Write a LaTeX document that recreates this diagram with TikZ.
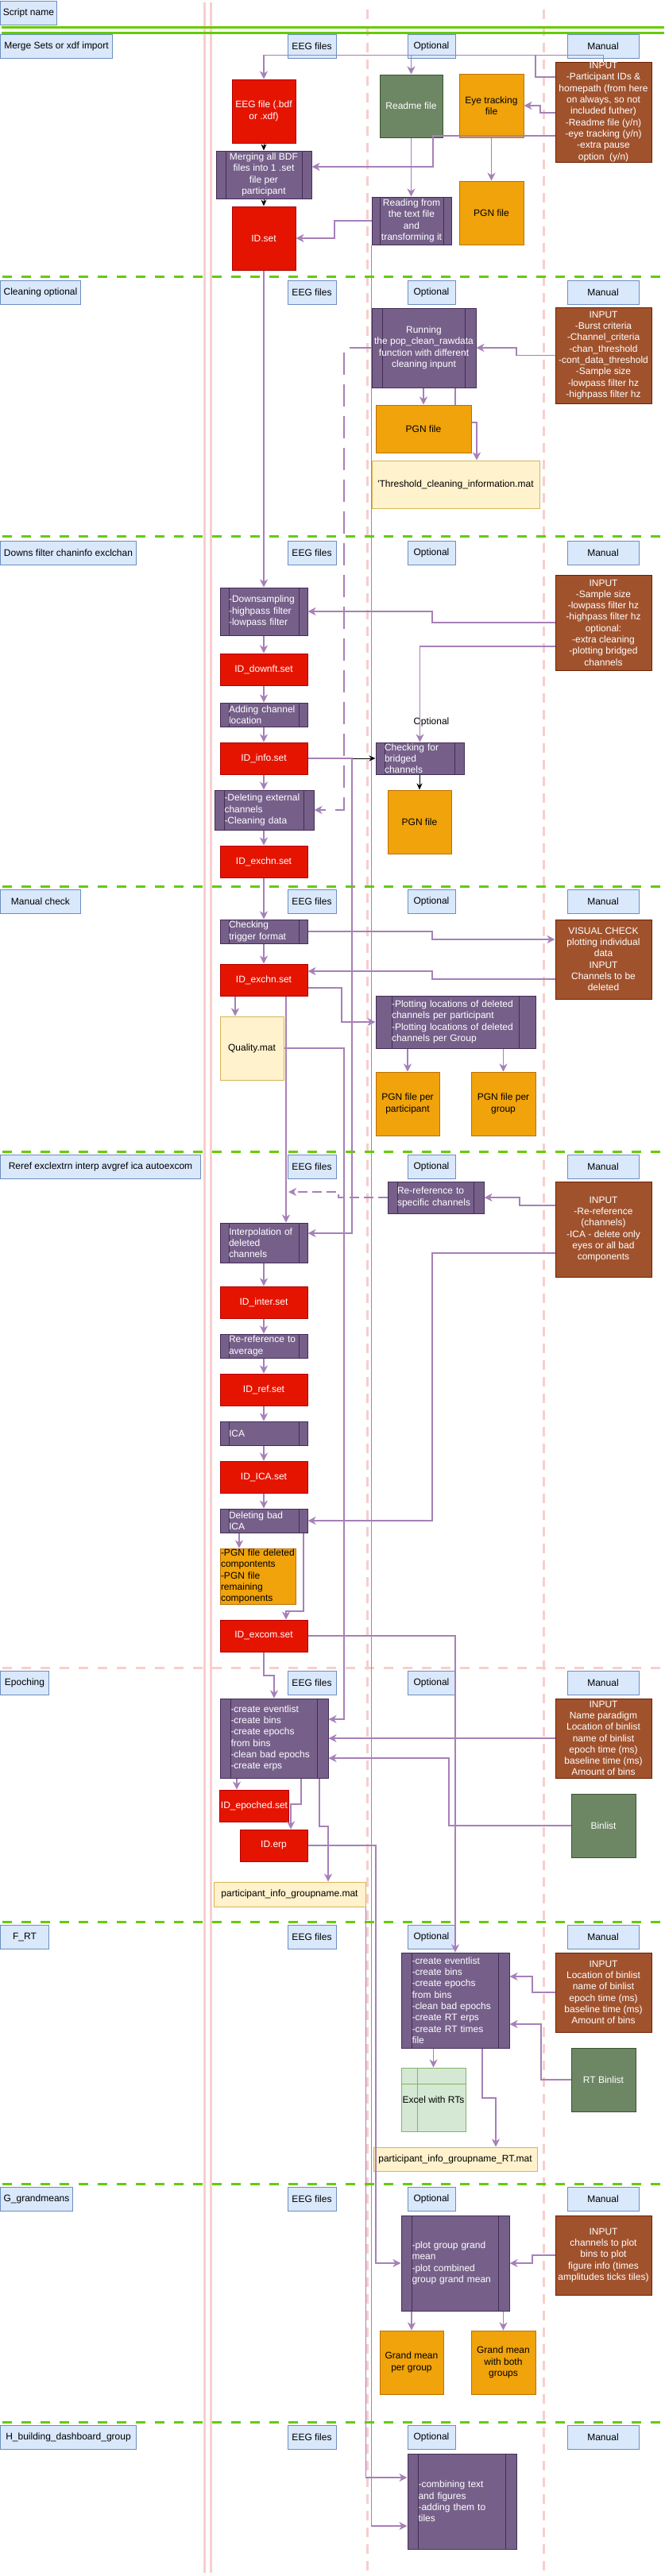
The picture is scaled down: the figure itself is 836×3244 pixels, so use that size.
\documentclass[tikz,border=0pt]{standalone}
\usepackage{fontspec}
\setmainfont{Liberation Sans}
\usetikzlibrary{arrows.meta,calc,backgrounds}

\definecolor{redfill}{HTML}{E51400}
\definecolor{redline}{HTML}{B20000}
\definecolor{procfill}{HTML}{76608A}
\definecolor{procline}{HTML}{432D57}
\definecolor{orfill}{HTML}{F0A30A}
\definecolor{orline}{HTML}{BD7000}
\definecolor{brfill}{HTML}{A0522D}
\definecolor{brline}{HTML}{6D1F00}
\definecolor{grfill}{HTML}{6D8764}
\definecolor{grline}{HTML}{3A5431}
\definecolor{hdrfill}{HTML}{DAE8FC}
\definecolor{hdrline}{HTML}{6C8EBF}
\definecolor{yelfill}{HTML}{FFF2CC}
\definecolor{yelline}{HTML}{D6B656}
\definecolor{lgfill}{HTML}{D5E8D4}
\definecolor{lgline}{HTML}{82B366}
\definecolor{flowcol}{HTML}{A680B8}
\definecolor{sepgreen}{HTML}{66CC00}
\definecolor{lanepink}{HTML}{F8CECC}

\begin{document}
\begin{tikzpicture}[x=1pt, y=-1pt,
  every node/.style={font=\fontsize{12}{14.3}\selectfont, inner xsep=1pt, inner ysep=0pt},
  sz/.style 2 args={minimum width=#1pt, minimum height=#2pt},
  hdr/.style={draw=hdrline, fill=hdrfill, line width=1pt},
  setfile/.style={draw=redline, fill=redfill, text=white, line width=1pt, align=center},
  proc/.style={draw=procline, fill=procfill, text=white, line width=1pt, align=center,
    path picture={\draw[procline, line width=1pt]
      ($(path picture bounding box.north west)!0.1!(path picture bounding box.north east)$) --
      ($(path picture bounding box.south west)!0.1!(path picture bounding box.south east)$)
      ($(path picture bounding box.north west)!0.9!(path picture bounding box.north east)$) --
      ($(path picture bounding box.south west)!0.9!(path picture bounding box.south east)$);}},
  procl/.style={proc, align=left, text width=#1pt},
  pgn/.style={draw=orline, fill=orfill, line width=1pt, align=center},
  inbox/.style={draw=brline, fill=brfill, text=white, line width=1pt, align=center},
  binbox/.style={draw=grline, fill=grfill, text=white, line width=1pt, align=center},
  matbox/.style={draw=yelline, fill=yelfill, line width=1pt, align=center},
  xlsbox/.style={draw=lgline, fill=lgfill, line width=1pt, align=center,
    path picture={\draw[lgline, line width=1pt]
      ([xshift=20pt]path picture bounding box.north west) -- ([xshift=20pt]path picture bounding box.south west)
      ([yshift=-20pt]path picture bounding box.north west) -- ([yshift=-20pt]path picture bounding box.north east);}},
  flowto/.style={draw=flowcol, line width=1.8pt, -{Stealth[length=10pt,width=10pt,inset=3pt]}},
  flowline/.style={draw=flowcol, line width=1.8pt},
  blk/.style={draw=black, line width=1pt, -{Stealth[length=8pt,width=7pt]}},
  divider/.style={draw=sepgreen, line width=3pt, dash pattern=on 12pt off 12pt},
  laneline/.style={draw=lanepink, line width=3pt}]

  \path[use as bounding box] (0,0) rectangle (836,3244);

  % Script names
  \draw (0,1) node[hdr, anchor=north west, sz={71}{30}] (snScript) {Script name};
  \draw (0,43) node[hdr, anchor=north west, sz={141}{30}] (snMerge) {Merge Sets or xdf import};
  \draw (0,353) node[hdr, anchor=north west, sz={101}{30}] (snClean) {Cleaning optional};
  \draw (0,681) node[hdr, anchor=north west, sz={171}{30}] (snDowns) {Downs filter chaninfo exclchan};
  \draw (0,1120) node[hdr, anchor=north west, sz={101}{30}] (snCheck) {Manual check};
  \draw (0,1454) node[hdr, anchor=north west, sz={252}{30}] (snReref) {Reref exclextrn interp avgref ica autoexcom};
  \draw (0,2104) node[hdr, anchor=north west, sz={61}{30}] (snEpoch) {Epoching};
  \draw (0,2424) node[hdr, anchor=north west, sz={61}{30}] (snRT) {F\_RT};
  \draw (0,2754) node[hdr, anchor=north west, sz={91}{30}] (snGrand) {G\_grandmeans};
  \draw (0,3054) node[hdr, anchor=north west, sz={171}{30}] (snDash) {H\_building\_dashboard\_group};

  % Column heads
  \foreach \y [count=\i] in {43,353,681,1120,1454,2104,2424,2754,3054} {
    \draw (392.5,\y+15) node[hdr, sz={61}{30}] (eeg\i) {EEG files};
    \draw (543,\y+15) node[hdr, sz={60}{30}] (opt\i) {Optional};
    \draw (759,\y+15) node[hdr, sz={90}{30}] (man\i) {Manual};
  }

  % Merge Sets or xdf import
  \draw (332,140) node[setfile, sz={80}{80}] (eegf) {EEG file (.bdf\\or .xdf)};
  \draw (517.5,133.5) node[binbox, sz={79}{79}] (readme) {Readme file};
  \draw (618.5,133) node[pgn, sz={81}{80}] (eyetr) {Eye tracking\\file};
  \draw (759.5,141) node[inbox, sz={121}{126}] (inpA) {INPUT\\-Participant IDs \&\\homepath (from here\\on always, so not\\included futher)\\-Readme file (y/n)\\-eye tracking (y/n)\\-extra pause\\option\ \ (y/n)};
  \draw (332,220) node[proc, sz={120}{60}] (merge) {Merging all BDF\\files into 1 .set\\file per\\participant};
  \draw (332,300) node[setfile, sz={80}{80}] (idset) {ID.set};
  \draw (518,278) node[proc, sz={100}{60}] (reading) {Reading from\\the text file\\and\\transforming it};
  \draw (618.5,268) node[pgn, sz={81}{80}] (pgnA) {PGN file};

  % Cleaning optional
  \draw (533.5,438) node[proc, sz={131}{100}] (running) {Running\\the pop\_clean\_rawdata\\function with different\\cleaning inpunt};
  \draw (759.5,447.5) node[inbox, sz={121}{121}] (inpB) {INPUT\\-Burst criteria\\-Channel\_criteria\\-chan\_threshold\\-cont\_data\_threshold\\-Sample size\\-lowpass filter hz\\-highpass filter hz};
  \draw (533,540) node[pgn, sz={120}{60}] (pgnB) {PGN file};
  \draw (573.5,610) node[matbox, sz={211}{60}] (thresh) {\textquotesingle Threshold\_cleaning\_information.mat};

  % Downs filter chaninfo exclchan
  \draw (332,770) node[procl=88, sz={110}{60}] (downs) {-Downsampling\\-highpass filter\\-lowpass filter};
  \draw (332,843) node[setfile, sz={110}{40}] (iddown) {ID\_downft.set};
  \draw (332,900) node[procl=88, sz={110}{30}] (chanloc) {Adding channel\\location};
  \draw (332,955) node[setfile, sz={110}{40}] (idinfo) {ID\_info.set};
  \draw (759.5,784) node[inbox, sz={121}{120}] (inpC) {INPUT\\-Sample size\\-lowpass filter hz\\-highpass filter hz\\optional:\\-extra cleaning\\-plotting bridged\\channels};
  \draw (543,909) node (optC) {Optional};
  \draw (528.5,955) node[procl=89, sz={111}{40}] (bridged) {Checking for\\bridged\\channels};
  \draw (528,1035) node[pgn, sz={80}{80}] (pgnC) {PGN file};
  \draw (332.5,1020) node[procl=100, sz={125}{50}] (delext) {-Deleting external\\channels\\-Cleaning data};
  \draw (332,1085) node[setfile, sz={110}{40}] (idexchn) {ID\_exchn.set};

  % Manual check
  \draw (332,1173) node[procl=88, sz={110}{30}] (trigger) {Checking\\trigger format};
  \draw (759.5,1208) node[inbox, sz={121}{100}] (visual) {VISUAL CHECK\\plotting individual\\data\\INPUT\\Channels to be\\deleted};
  \draw (332,1234) node[setfile, sz={110}{40}] (idexchnB) {ID\_exchn.set};
  \draw (573.5,1287) node[procl=161, sz={201}{66}] (plotloc) {-Plotting locations of deleted\\channels per participant\\-Plotting locations of deleted\\channels per Group};
  \draw (513,1390) node[pgn, sz={80}{80}] (pgnpart) {PGN file per\\participant};
  \draw (633.5,1390) node[pgn, sz={81}{80}] (pgngrp) {PGN file per\\group};
  \draw (317,1320) node[matbox, sz={80}{80}] (quality) {Quality.mat};

  % Reref exclextrn interp avgref ica autoexcom
  \draw (548.5,1508) node[procl=97, sz={121}{40}] (reref) {Re-reference to\\specific channels};
  \draw (759.5,1548) node[inbox, sz={121}{120}] (inpE) {INPUT\\-Re-reference\\(channels)\\-ICA - delete only\\eyes or all bad\\components};
  \draw (332,1565) node[procl=88, sz={110}{50}] (interp) {Interpolation of\\deleted\\channels};
  \draw (332,1640) node[setfile, sz={110}{40}] (idinter) {ID\_inter.set};
  \draw (332,1695) node[procl=88, sz={110}{30}] (refavg) {Re-reference to\\average};
  \draw (332,1750) node[setfile, sz={110}{40}] (idref) {ID\_ref.set};
  \draw (332,1805) node[procl=88, sz={110}{30}] (ica) {ICA};
  \draw (332,1860) node[setfile, sz={110}{40}] (idica) {ID\_ICA.set};
  \draw (332,1915) node[procl=88, sz={110}{30}] (delica) {Deleting bad\\ICA};
  \draw (324.5,1985) node[pgn, align=left, text width=93pt, sz={95}{70}] (pgncomp) {-PGN file deleted\\compontents\\-PGN file\\remaining\\components};
  \draw (332,2060) node[setfile, sz={110}{40}] (idexcom) {ID\_excom.set};
  \coordinate (rerefend) at (363,1501);

  % Epoching
  \draw (345,2189) node[procl=109, sz={136}{100}] (epoch) {-create eventlist\\-create bins\\-create epochs\\from bins\\-clean bad epochs\\-create erps};
  \draw (759.5,2189) node[inbox, sz={121}{100}] (inpF) {INPUT\\Name paradigm\\Location of binlist\\name of binlist\\epoch time (ms)\\baseline time (ms)\\Amount of bins};
  \draw (759.5,2299) node[binbox, sz={81}{80}] (binlist) {Binlist};
  \draw (320,2274) node[setfile, sz={86}{40}] (idepoch) {ID\_epoched.set};
  \draw (344.5,2324) node[setfile, sz={85}{40}] (iderp) {ID.erp};
  \draw (364.5,2385.5) node[matbox, sz={191}{31}] (pinfo) {participant\_info\_groupname.mat};

  % F_RT
  \draw (573,2519) node[procl=109, sz={136}{120}] (rtbox) {-create eventlist\\-create bins\\-create epochs\\from bins\\-clean bad epochs\\-create RT erps\\-create RT times\\file};
  \draw (759.5,2509) node[inbox, sz={121}{100}] (inpG) {INPUT\\Location of binlist\\name of binlist\\epoch time (ms)\\baseline time (ms)\\Amount of bins};
  \draw (759.5,2619) node[binbox, sz={81}{80}] (rtbin) {RT Binlist};
  \draw (545.5,2644) node[xlsbox, sz={81}{80}] (excel) {Excel with RTs};
  \draw (573,2719) node[matbox, sz={206}{30}] (pinfort) {participant\_info\_groupname\_RT.mat};

  % G_grandmeans
  \draw (573,2850) node[procl=109, sz={136}{120}] (gm) {-plot group grand\\mean\\-plot combined\\group grand mean};
  \draw (759.5,2840) node[inbox, sz={121}{100}] (inpH) {INPUT\\channels to plot\\bins to plot\\figure info (times\\amplitudes ticks tiles)};
  \draw (518,2975) node[pgn, sz={80}{80}] (gmgrp) {Grand mean\\per group};
  \draw (633.5,2975) node[pgn, sz={81}{80}] (gmboth) {Grand mean\\with both\\groups};

  % H_building_dashboard_group
  \draw (581.5,3150) node[procl=110, sz={137}{120}] (dashbd) {-combining text\\and figures\\-adding them to\\tiles};

  % Lanes and separators
  \begin{pgfonlayer}{background}
    \draw[laneline] (257,3) -- (257,3240);
    \draw[laneline] (265,3) -- (265,3240);
    \draw[laneline, dash pattern=on 12pt off 9pt] (462.5,12) -- (462.5,3240);
    \draw[laneline, dash pattern=on 12pt off 9pt] (684,12) -- (684,3240);
    \draw[divider, solid] (2,34) -- (836,34);
    \draw[divider, solid] (2,41) -- (836,41);
    \foreach \y in {348,675,1116,1450,2420,2750,3050}
      \draw[divider] (3,\y) -- (836,\y);
    \draw[divider, draw=lanepink] (3,2100) -- (836,2100);
    \draw[flowto] (running.south -| 573,0) -- (573,532) -- (600,532) -- (thresh.north -| 600,0);
  \end{pgfonlayer}

  % Merge connectors
  \draw[flowto] (inpA.north) -- ++(0,-8) -| (eegf.north);
  \draw[flowto] (inpA.north) -- ++(0,-8) -| (readme.north);
  \draw[flowline] (inpA.west |- 0,97) -| (674,70);
  \draw[flowto] (inpA.west |- 0,142) -- (680,142) |- (eyetr.east);
  \draw[flowto] (inpA.west |- 0,171) -| (545,210) -- (merge.east |- 0,210);
  \draw[flowto] (readme.south) -- (readme.south |- reading.north);
  \draw[flowto] (eyetr.south) -- (pgnA.north);
  \draw[blk] (eegf) -- (merge);
  \draw[blk] (merge) -- (idset);
  \draw[flowto] (reading.west) -- (421,278) |- (idset.east);
  \draw[flowto] (reading.south west) |- ([yshift=-31pt]dashbd.west);

  % Cleaning connectors
  \draw[flowto] (inpB.west) -- (650,447.5) |- (running.east);
  \draw[flowto] (running.south -| pgnB.north) -- (pgnB.north);
  \draw[flowto, dash pattern=on 28pt off 12pt] (running.west) -- (433,438) |- (delext.east);

  % Downs connectors
  \draw[flowto] (idset) -- (downs);
  \draw[flowto] (inpC.west) -- (544,784) |- (downs.east);
  \draw[flowto] ([yshift=-30pt]inpC.west) -| (bridged.north);
  \draw[flowto] (downs) -- (iddown);
  \draw[flowto] (iddown) -- (chanloc);
  \draw[flowto] (chanloc) -- (idinfo);
  \draw[flowto] (idinfo.south) -- (idinfo.south |- delext.north);
  \draw[flowto] (delext.south -| idexchn.north) -- (idexchn.north);
  \draw[blk] (idinfo.east) -- (bridged.west);
  \draw[flowto] (idinfo.east) -- (443,955) |- ([yshift=12pt]interp.east);
  \draw[blk] (bridged.south -| pgnC.north) -- (pgnC.north);

  % Manual check connectors
  \draw[flowto] (idexchn) -- (trigger);
  \draw[flowto] (trigger.east) -- (544,1173) |- ([yshift=25pt]visual.west);
  \draw[flowto] ([yshift=-25pt]visual.west) -- (544,1233) |- ([yshift=11pt]idexchnB.east);
  \draw[flowto] (trigger) -- (idexchnB);
  \draw[flowto] ([yshift=-10pt]idexchnB.east) -- (430,1244) |- (plotloc.west);
  \draw[flowto] (plotloc.south -| pgnpart.north) -- (pgnpart.north);
  \draw[flowto] (plotloc.south -| pgngrp.north) -- (pgngrp.north);
  \draw[flowto] (idexchnB.south -| 296,0) -- (quality.north -| 296,0);
  \draw[flowto] (idexchnB.south -| 360,0) -- (interp.north -| 360,0);
  \draw[flowto] (quality.east) -- (433,1320) |- ([yshift=24pt]epoch.east);

  % Reref connectors
  \draw[flowto] ([yshift=30pt]inpE.west) -- (654,1518) |- (reref.east);
  \draw[flowto, dash pattern=on 12pt off 6pt] (reref.west) -- (426,1508) |- (rerefend);
  \draw[flowto] ([yshift=-30pt]inpE.west) -- (544,1578) |- (delica.east);
  \foreach \a/\b in {interp/idinter, idinter/refavg, refavg/idref, idref/ica, ica/idica, idica/delica}
    \draw[flowto] (\a) -- (\b);
  \draw[flowto] (delica.south -| 301,0) -- (pgncomp.north -| 301,0);
  \draw[flowto] (delica.south -| 382,0) -- (382,2029) -| (idexcom.north -| 360,0);

  % Epoching connectors
  \draw[flowto] (idexcom.south) -- (332,2110) -| (epoch.north);
  \draw[flowto] (idexcom.east) -| (rtbox.north);
  \draw[flowto] (inpF.west) -- (epoch.east);
  \draw[flowto] (binlist.west) -- (565,2299) |- ([yshift=-25pt]epoch.east);
  \draw[flowto] (epoch.south -| 298,0) -- (idepoch.north -| 298,0);
  \draw[flowto] (epoch.south -| 379,0) -- (379,2272) -| (iderp.north -| 366,0);
  \draw[flowto] (epoch.south -| 402,0) -- (402,2300) -| (pinfo.north -| 413,0);
  \draw[flowto] (iderp.east) -- (473,2324) |- (gm.west);
  \draw[flowto] (pinfo.south east) |- ([yshift=30pt]dashbd.west);

  % F_RT connectors
  \draw[flowto] (inpG.west) -- (670,2509) |- ([yshift=30pt]rtbox.east);
  \draw[flowto] (rtbin.west) -- (681,2619) |- ([yshift=-30pt]rtbox.east);
  \draw[flowto] (rtbox.south -| excel.north) -- (excel.north);
  \draw[flowto] (rtbox.south -| 607,0) -- (607,2642) -| (pinfort.north -| 624,0);

  % Grand mean connectors
  \draw[flowto] (inpH.west) -- (670,2840) |- (gm.east);
  \draw[flowto] (gm.south -| gmgrp.north) -- (gmgrp.north);
  \draw[flowto] (gm.south -| gmboth.north) -- (gmboth.north);

\end{tikzpicture}
\end{document}
